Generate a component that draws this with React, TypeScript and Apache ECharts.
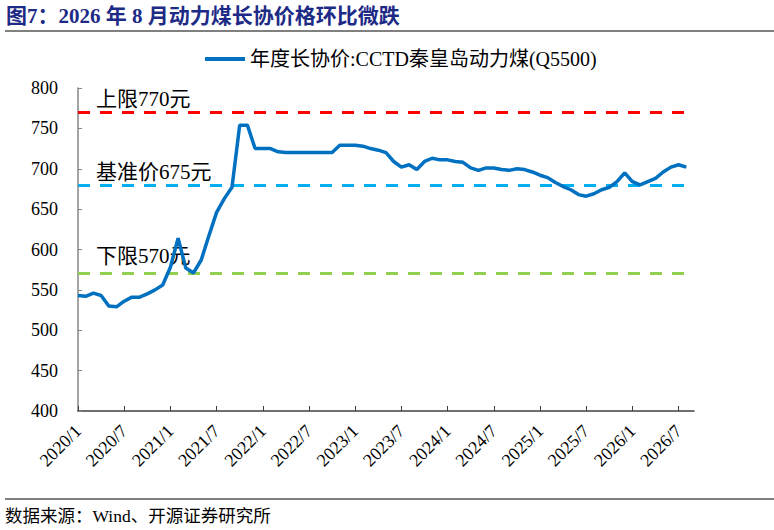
import React, { useEffect, useRef } from 'react';
import * as echarts from 'echarts';

// 月份类目 2020/1 ~ 2026/9（最后一个只占位，让轴延伸到 2026/8 之后）
const months: string[] = [];
for (let y = 2020; y <= 2026; y++) {
  for (let m = 1; m <= 12; m++) {
    if (y === 2026 && m > 9) break;
    months.push(`${y}/${m}`);
  }
}

// 年度长协价:CCTD秦皇岛动力煤(Q5500)，元/吨
const contractPrice = [
  543, 542, 546, 543, 530, 529, 536, 541, 541, 545, 550, 556,
  578, 614, 577, 571, 587, 617, 646, 663, 677, 754, 754, 725,
  725, 725, 721, 720, 720, 720, 720, 720, 720, 720, 729, 729,
  729, 728, 725, 723, 720, 709, 702, 705, 699, 709, 713, 711,
  711, 709, 708, 701, 698, 701, 701, 699, 698, 700, 699, 696,
  692, 689, 683, 678, 674, 668, 666, 669, 674, 677, 684, 695,
  684, 680, 684, 688, 696, 702, 705, 702
];

// 参考线：数值、文字、颜色
const refValues = [770, 680, 570];
const refLabels = ['上限770元', '基准价675元', '下限570元'];
const refColors = ['#FF0000', '#00B0F0', '#92D050'];
const refLabelGap = [3, 2, 7];

const seriesName = '年度长协价:CCTD秦皇岛动力煤(Q5500)';
const titleText = '图7：2026 年 8 月动力煤长协价格环比微跌';
const sourceText = '数据来源：Wind、开源证券研究所';

const FONT = "'Liberation Serif', 'Times New Roman', 'Noto Sans CJK SC', serif";

const App: React.FC = () => {
  const chartRef = useRef<HTMLDivElement>(null);

  useEffect(() => {
    if (!chartRef.current) return;
    const chart = echarts.init(chartRef.current, null, { renderer: 'svg' });

    const markData = refValues.map((v, i) => ({
      yAxis: v,
      lineStyle: { color: refColors[i], type: [12, 10], width: 3 },
      label: {
        show: true,
        position: 'insideStartTop',
        formatter: refLabels[i],
        distance: [18, refLabelGap[i]],
        color: '#000',
        fontSize: 21,
        fontFamily: FONT
      }
    }));

    const option: echarts.EChartsOption = {
      animation: false,
      backgroundColor: '#fff',
      title: {
        text: titleText,
        left: 6,
        top: 5,
        padding: 0,
        textStyle: {
          color: '#1E2B86',
          fontSize: 21,
          fontWeight: 'bold',
          fontFamily: FONT
        }
      },
      legend: {
        left: 205,
        top: 49,
        padding: 0,
        icon: 'rect',
        itemWidth: 40,
        itemHeight: 4,
        textStyle: { fontSize: 20, color: '#000', fontFamily: FONT },
        data: [seriesName]
      },
      grid: { left: 78, right: 80, top: 88, bottom: 119 },
      xAxis: {
        type: 'category',
        data: months,
        boundaryGap: false,
        axisLine: { lineStyle: { color: '#404040', width: 1.5 } },
        axisTick: { inside: true, length: 5, interval: 5, lineStyle: { color: '#404040' } },
        axisLabel: {
          interval: 5,
          rotate: 45,
          margin: 17,
          fontSize: 18,
          color: '#000',
          fontFamily: FONT
        },
        splitLine: { show: false }
      },
      yAxis: {
        type: 'value',
        min: 400,
        max: 800,
        interval: 50,
        axisLine: { show: true, lineStyle: { color: '#868686', width: 1.5 } },
        axisTick: { show: true, inside: true, length: 4, lineStyle: { color: '#868686' } },
        axisLabel: { fontSize: 18, color: '#000', margin: 20, fontFamily: FONT },
        splitLine: { show: false }
      },
      graphic: [
        {
          type: 'line',
          shape: { x1: 5, y1: 31, x2: 774, y2: 31 },
          style: { stroke: '#808080', lineWidth: 2 }
        },
        {
          type: 'line',
          shape: { x1: 5, y1: 499, x2: 774, y2: 499 },
          style: { stroke: '#808080', lineWidth: 2 }
        },
        {
          type: 'text',
          left: 5,
          top: 507,
          style: { text: sourceText, fontSize: 17.5, fill: '#000', fontFamily: FONT }
        }
      ],
      series: [
        {
          name: seriesName,
          type: 'line',
          data: contractPrice,
          showSymbol: false,
          symbol: 'none',
          itemStyle: { color: '#0070C0' },
          lineStyle: { color: '#0070C0', width: 3.5 },
          z: 3,
          markLine: {
            silent: true,
            symbol: 'none',
            z: 2,
            data: markData as any
          }
        }
      ]
    };

    chart.setOption(option);

    return () => {
      chart.dispose();
    };
  }, []);

  return (
    <div
      ref={chartRef}
      style={{ position: 'fixed', left: 0, top: 0, width: '774px', height: '530px', background: '#fff' }}
    />
  );
};

export default App;
